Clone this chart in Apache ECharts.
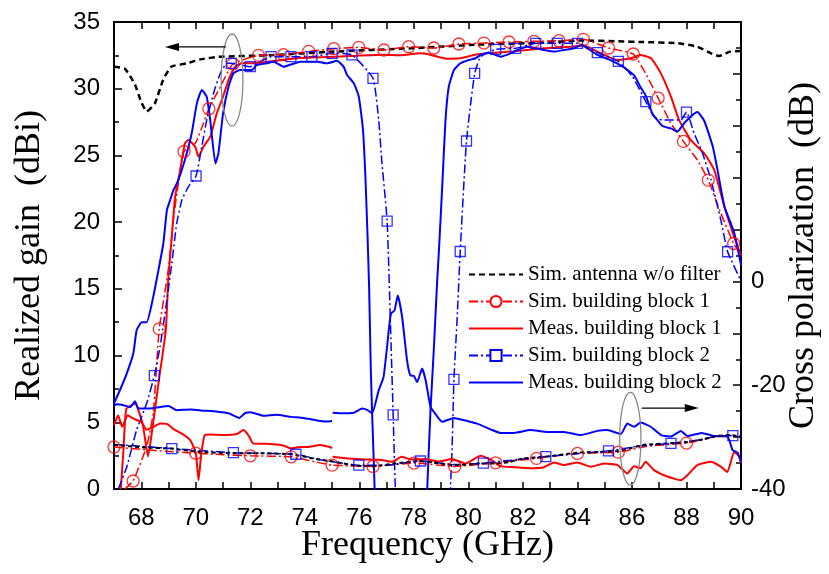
<!DOCTYPE html>
<html>
<head>
<meta charset="utf-8">
<script src="https://cdn.jsdelivr.net/npm/echarts@6/dist/echarts.min.js"></script>
<style>html,body{margin:0;padding:0;background:#fff}#c{width:829px;height:574px}</style>
</head>
<body>
<div id="c"></div>
<script>
// ---------- data (frequency in GHz) ----------
// Realized gain (dBi), left axis
const antF = [67, 67.4, 67.77, 68.0, 68.2, 68.5, 68.8, 69.1, 69.67, 70.16, 70.9, 72.6, 75.05, 77.9, 80.3, 82.76, 84.2, 85.5, 86.4, 87.7, 88.4, 88.9, 89.2, 89.6, 90];
const antG = [31.65, 31.5, 30.3, 29.0, 28.3, 28.9, 30.65, 31.65, 31.9, 32.2, 32.4, 32.5, 32.78, 33.03, 33.3, 33.45, 33.62, 33.55, 33.5, 33.4, 33.15, 32.65, 32.45, 32.78, 32.83];

const sim1F = [67.4, 67.7, 68.2, 68.44, 68.66, 68.99, 69.18, 69.36, 69.57, 69.98, 70.28, 70.48, 70.9, 71.36, 72.3, 73.22, 74.14, 75.06, 75.98, 76.9, 77.81, 78.73, 79.65, 80.57, 81.49, 82.4, 83.32, 84.22, 85.14, 86.05, 86.5, 86.96, 87.43, 87.89, 88.4, 88.8, 89.26, 89.73, 90];
const sim1G = [0, 0.6, 3.2, 5.7, 12.0, 16.4, 20.2, 22.9, 25.3, 25.9, 27.4, 28.5, 30.15, 31.85, 32.5, 32.55, 32.8, 33.0, 33.1, 32.9, 33.15, 33.05, 33.35, 33.42, 33.5, 33.55, 33.6, 33.7, 33.05, 32.6, 31.15, 29.3, 27.4, 26.05, 24.66, 23.15, 20.66, 18.4, 17.5];
const sim1MarkF = [67.7, 68.66, 69.57, 70.48, 71.36, 72.3, 73.22, 74.14, 75.06, 75.98, 76.9, 77.81, 78.73, 79.65, 80.57, 81.49, 82.4, 83.32, 84.22, 85.14, 86.05, 86.96, 87.89, 88.8, 89.73];
const sim1MarkG = [0.6, 12.0, 25.3, 28.5, 31.85, 32.5, 32.55, 32.8, 33.0, 33.1, 32.9, 33.15, 33.05, 33.35, 33.42, 33.5, 33.55, 33.6, 33.7, 33.05, 32.6, 29.3, 26.05, 23.15, 18.4];

const meas1F = [67.25, 67.35, 67.45, 67.77, 68.05, 68.25, 68.4, 68.65, 68.9, 68.99, 69.12, 69.24, 69.4, 69.6, 69.73, 69.98, 70.1, 70.28, 70.53, 70.77, 71.0, 71.2, 71.45, 71.7, 72.0, 72.6, 73.8, 75.06, 76.9, 77.5, 78.24, 78.6, 79.2, 79.7, 80.2, 80.7, 81.55, 82.77, 83.75, 84.24, 84.73, 85.47, 85.96, 86.3, 86.7, 87.06, 87.43, 87.73, 88.16, 88.65, 89.02, 89.39, 89.75, 90];
const meas1G = [0, 3.0, 6.0, 6.4, 4.9, 2.45, 4.4, 8.2, 11.9, 15.67, 18.9, 21.9, 23.6, 25.9, 26.15, 25.65, 24.9, 25.65, 26.4, 28.15, 29.4, 30.65, 31.65, 31.9, 31.9, 32.0, 32.3, 32.4, 32.55, 32.5, 32.65, 32.55, 32.25, 32.28, 32.53, 32.65, 32.78, 33.03, 33.15, 33.23, 32.78, 32.15, 32.28, 32.53, 32.28, 31.15, 29.4, 27.65, 26.15, 25.16, 23.9, 21.16, 18.9, 17.5];

const sim2F = [67.16, 67.47, 67.83, 68.2, 68.48, 68.69, 68.94, 69.12, 69.3, 69.49, 69.73, 70.01, 70.22, 70.4, 70.65, 70.9, 71.14, 71.3, 72.0, 72.76, 73.49, 74.26, 75.0, 75.73, 76.5, 76.71, 76.83, 77.02, 77.17, 77.24, 77.32, 77.4, 79.3, 79.34, 79.4, 79.47, 79.59, 79.7, 79.93, 80.23, 80.45, 81.0, 81.73, 82.47, 83.26, 84.0, 84.73, 85.5, 86.02, 86.51, 86.81, 87.12, 87.79, 88.0, 88.28, 88.59, 88.9, 89.26, 89.51, 90];
const sim2G = [0, 1.67, 4.42, 6.42, 8.49, 10.66, 14.16, 16.9, 19.9, 21.66, 22.66, 23.46, 25.65, 27.65, 29.65, 31.15, 31.9, 31.9, 31.65, 32.4, 32.4, 32.4, 32.65, 32.53, 30.78, 27.65, 24.4, 20.08, 10.4, 5.55, 0, -3, -3, 0, 2.9, 8.22, 12.9, 17.8, 26.08, 31.15, 32.4, 32.95, 33.03, 33.4, 33.4, 33.4, 32.7, 32.05, 30.9, 29.03, 27.9, 27.65, 27.65, 28.25, 26.66, 25.16, 23.16, 20.16, 17.78, 15.6];
const sim2MarkF = [68.48, 70.01, 71.3, 72.0, 72.76, 73.49, 74.26, 75.0, 75.73, 76.5, 77.02, 77.24, 79.47, 79.7, 79.93, 80.23, 81.0, 81.73, 82.47, 83.26, 84.0, 84.73, 85.5, 86.51, 88.0, 89.51];
const sim2MarkG = [8.49, 23.46, 31.9, 31.65, 32.4, 32.4, 32.4, 32.65, 32.53, 30.78, 20.08, 5.55, 8.22, 17.8, 26.08, 31.15, 32.95, 33.03, 33.4, 33.4, 33.4, 32.7, 32.05, 29.03, 28.25, 17.78];

const meas2F = [67.0, 67.22, 67.47, 67.71, 67.83, 68.02, 68.2, 68.44, 68.63, 68.81, 68.94, 69.06, 69.18, 69.33, 69.6, 69.85, 70.04, 70.22, 70.4, 70.53, 70.72, 70.83, 71.0, 71.2, 71.38, 71.63, 72.06, 72.24, 72.6, 72.85, 73.22, 73.83, 74.45, 74.81, 75.18, 75.42, 75.55, 75.8, 75.98, 76.13, 76.22, 76.3, 76.36, 76.42, 76.48, 76.53, 76.56, 76.6, 78.45, 78.49, 78.61, 78.73, 78.85, 78.92, 79.04, 79.16, 79.28, 79.47, 79.7, 80.02, 80.26, 80.45, 80.75, 81.18, 81.55, 81.8, 82.16, 82.77, 83.14, 83.5, 83.88, 84.12, 84.37, 84.73, 85.15, 85.71, 86.08, 86.32, 86.5, 86.75, 87.12, 87.43, 87.67, 87.91, 88.15, 88.4, 88.65, 88.96, 89.14, 89.39, 89.75, 90];
const meas2G = [6.42, 7.42, 8.67, 10.17, 11.9, 12.5, 12.5, 14.4, 16.4, 18.4, 20.9, 21.66, 22.4, 23.0, 24.66, 26.66, 28.9, 29.9, 29.4, 27.65, 24.4, 25.16, 28.15, 30.15, 31.15, 31.4, 31.4, 31.78, 31.9, 32.03, 31.65, 32.03, 32.03, 31.9, 32.1, 31.65, 31.03, 30.4, 29.4, 27.0, 23.5, 19.0, 15.0, 9.0, 5.0, 2.0, 0, -3, -3, 0, 5.9, 10.4, 15.4, 17.9, 22.66, 27.65, 30.15, 31.4, 31.9, 32.15, 32.28, 32.53, 32.7, 32.4, 32.65, 32.9, 33.15, 32.9, 32.78, 32.9, 33.03, 33.28, 33.03, 32.53, 32.2, 31.6, 31.0, 30.1, 29.5, 28.15, 27.2, 27.03, 26.8, 27.4, 27.9, 28.25, 27.6, 25.7, 23.9, 21.2, 19.2, 16.8];

// Cross polarization (dB), right axis
const antXF = [67, 68.1, 69.1, 70.0, 71.35, 72.3, 73.5, 74.3, 74.9, 75.9, 76.5, 77.3, 78.2, 78.7, 79.5, 80.4, 81.0, 81.5, 82.0, 82.8, 84.0, 85.1, 85.5, 85.9, 86.4, 87.4, 88.0, 88.6, 89.1, 89.6, 90];
const antXC = [-31.5, -32.0, -32.2, -32.8, -33.1, -33.1, -33.3, -34.1, -34.6, -35.5, -35.6, -35.1, -34.6, -34.9, -35.4, -35.1, -35.1, -34.8, -34.1, -33.8, -33.0, -32.8, -32.7, -32.2, -31.5, -31.2, -31.0, -30.45, -29.8, -29.6, -29.9];

const sim1XF = [67, 68.5, 70, 71, 72, 73.5, 74.4, 75, 76.5, 78, 79.5, 81, 82.5, 84, 85.5, 86.5, 88, 89, 89.5, 90];
const sim1XC = [-31.9, -32.6, -33.1, -33.4, -33.6, -33.8, -34.8, -35.4, -35.65, -35.0, -35.65, -34.95, -34.1, -33.15, -32.9, -31.8, -31.15, -30.0, -29.7, -29.9];
const sim1XMarkF = [67.0, 70.0, 72.0, 73.5, 75.0, 76.5, 78.0, 79.5, 81.0, 82.5, 84.0, 85.5, 88.0];
const sim1XMarkC = [-31.9, -33.1, -33.6, -33.8, -35.4, -35.65, -35.0, -35.65, -34.95, -34.1, -33.15, -32.9, -31.15];

const sim2XF = [67, 69.12, 71.38, 73.67, 74.5, 75.98, 77.0, 78.24, 79.5, 80.55, 82.84, 85.14, 86.3, 87.43, 88.5, 89.1, 89.7, 90];
const sim2XC = [-31.4, -32.2, -33.0, -33.3, -34.3, -35.4, -35.4, -34.6, -35.3, -35.0, -33.75, -32.65, -31.7, -31.2, -30.5, -29.8, -29.7, -29.9];
const sim2XMarkF = [69.12, 71.38, 73.67, 75.98, 78.24, 80.55, 82.84, 85.14, 87.43, 89.7];
const sim2XMarkC = [-32.2, -33.0, -33.3, -35.4, -34.6, -35.0, -33.75, -32.65, -31.2, -29.7];

// measured cross-pol: null marks the break at 75 GHz
const meas1XF = [67.0, 67.15, 67.3, 67.5, 67.7, 68.0, 68.2, 68.45, 68.7, 68.95, 69.2, 69.6, 69.8, 70.0, 70.1, 70.2, 70.33, 70.6, 71.0, 71.5, 71.75, 71.95, 72.1, 72.6, 73.2, 73.5, 73.8, 74.1, 74.57, 74.9, 75.0, 75.01,
  75.02, 75.6, 76.2, 76.8, 77.2, 77.55, 77.9, 78.4, 78.9, 79.4, 79.9, 80.45, 80.81, 81.18, 81.67, 82.28, 82.77, 83.14, 83.5, 84.0, 84.49, 84.98, 85.47, 85.83, 86.08, 86.32, 86.5, 86.81, 87.3, 87.79, 88.04, 88.4, 88.9, 89.26, 89.5, 89.75, 89.94, 90];
const meas1XC = [-27.7, -25.8, -28.0, -25.8, -26.4, -27.1, -28.6, -28.0, -27.4, -27.5, -28.5, -29.7, -30.6, -33.0, -38.3, -33.3, -29.6, -29.5, -29.6, -29.4, -28.65, -29.8, -31.2, -31.3, -31.6, -32.2, -31.9, -31.9, -31.5, -31.9, -32.1, null,
  -33.8, -34.1, -34.3, -34.4, -34.75, -33.8, -34.3, -34.2, -34.75, -34.2, -35.1, -33.6, -34.3, -35.6, -35.8, -36.0, -35.8, -34.9, -35.4, -34.9, -35.7, -35.1, -35.4, -37.0, -35.6, -36.0, -34.75, -36.35, -37.6, -38.3, -37.3, -35.4, -34.75, -35.7, -36.7, -32.8, -33.8, -35.0];

const meas2XF = [67.0, 67.12, 67.35, 67.6, 67.77, 67.9, 68.3, 68.68, 69.0, 69.3, 69.8, 70.3, 70.8, 71.2, 71.6, 71.8, 72.0, 72.5, 72.95, 73.5, 73.95, 74.45, 74.8, 75.0, 75.01,
  75.02, 75.4, 75.8, 76.1, 76.3, 76.47, 76.71, 76.89, 77.08, 77.16, 77.29, 77.41, 77.57, 77.75, 77.87, 78.0, 78.12, 78.3, 78.43, 78.61, 78.73, 79.04, 79.47, 79.96, 80.32, 80.81, 81.18, 81.67, 82.28, 82.9, 83.5, 84.12, 84.73, 85.1, 85.59, 85.83, 86.08, 86.32, 86.69, 87.06, 87.43, 87.79, 88.04, 88.55, 89.02, 89.51, 89.69, 89.87, 90];
const meas2XC = [-23.9, -23.65, -23.85, -24.2, -23.1, -24.5, -24.5, -24.2, -24.0, -24.8, -24.7, -24.9, -25.1, -25.4, -26.3, -25.4, -25.2, -25.9, -25.7, -26.1, -26.3, -26.8, -27.0, -26.9, null,
  -25.3, -25.4, -25.3, -24.5, -24.8, -25.4, -21.0, -18.4, -9.4, -6.2, -5.6, -2.7, -6.9, -15.2, -18.1, -18.2, -19.4, -16.8, -19.0, -24.2, -25.1, -27.05, -26.3, -26.9, -27.4, -28.5, -29.2, -29.2, -28.65, -29.0, -29.0, -29.6, -28.8, -28.65, -29.4, -27.4, -28.0, -27.2, -28.0, -29.6, -29.9, -28.8, -29.8, -29.2, -29.8, -29.9, -32.5, -33.0, -34.8];

// axis tick labels
const gainTicks = [0, 5, 10, 15, 20, 25, 30, 35];
const crossLabels = [-40, -20, 0];
const freqLabels = [68, 70, 72, 74, 76, 78, 80, 82, 84, 86, 88, 90];

// annotation anchors (data coordinates)
const ellipse1 = {f: 71.33, v: 30.65, df: 0.4, dv: 3.45};   // left axis
const ellipse2 = {f: 85.94, v: -30.3, df: 0.39, dv: 8.95};  // right axis
const arrow1 = {f0: 71.1, f1: 68.87, v: 33.13};             // left axis
const arrow2 = {f0: 86.36, f1: 88.45, v: -24.4};            // right axis

const names = ['Sim. antenna w/o filter', 'Sim. building block 1', 'Meas. building block 1', 'Sim. building block 2', 'Meas. building block 2'];
const hasMarker = [false, true, false, true, false];
const RED = '#ff0000', BLUE = '#0000ff', BLACK = '#000000';
const DASHDOT = [9, 3, 2, 3];

function zip(f, v) { return f.map((x, i) => [x, v[i] === null ? '-' : v[i]]); }

function lineS(name, f, v, color, type, width, yIdx, sym) {
  return {
    name, type: 'line', xAxisIndex: 0, yAxisIndex: yIdx, data: zip(f, v),
    showSymbol: false, symbol: sym || 'none', symbolSize: sym === 'emptyRect' ? 10 : 12,
    connectNulls: false, smooth: 0.15, animation: false, clip: true,
    lineStyle: {color, width, type},
    itemStyle: {color, borderColor: color, borderWidth: 1.3},
    emphasis: {disabled: true}
  };
}
function markS(name, f, v, color, sym, yIdx, size) {
  return {
    name, type: 'scatter', xAxisIndex: 0, yAxisIndex: yIdx, data: zip(f, v),
    symbol: sym, symbolSize: size, animation: false,
    itemStyle: {color: 'rgba(255,255,255,0)', borderColor: color, borderWidth: 1.3},
    emphasis: {disabled: true}, z: 3
  };
}

const axisFont = () => ({fontFamily: 'Liberation Sans, Arial, sans-serif', fontSize: 24, color: '#000'});
const nameFont = () => ({fontFamily: 'Liberation Serif, Times New Roman, serif', fontSize: 36, color: '#000'});
const axLine = () => ({show: true, onZero: false, lineStyle: {color: '#000', width: 2}});
const tick = (len) => ({inside: true, length: len, lineStyle: {width: 1.5, color: '#000'}});
const minor = () => ({show: true, splitNumber: 2, length: 5, lineStyle: {width: 1.5, color: '#000'}});

const chart = echarts.init(document.getElementById('c'), null, {renderer: 'canvas'});
chart.setOption({
  backgroundColor: '#fff',
  animation: false,
  grid: {left: 114, right: 88, top: 22, bottom: 85, containLabel: false, outerBoundsMode: 'none',
         show: true, borderColor: '#000', borderWidth: 2, backgroundColor: 'rgba(0,0,0,0)'},
  legend: {
    data: names.map((n, i) => hasMarker[i] ? {name: n} : {name: n, itemStyle: {opacity: 0}}),
    orient: 'vertical', left: 463, top: 259,
    itemWidth: 54, itemHeight: 14, itemGap: 6,
    textStyle: {fontFamily: 'Liberation Serif, Times New Roman, serif', fontSize: 21, color: '#000', lineHeight: 21},
    selectedMode: false
  },
  xAxis: [{
    type: 'value', position: 'bottom', min: 67, max: 90, interval: 1,
    axisLine: axLine(), splitLine: {show: false}, axisTick: tick(7),
    axisLabel: Object.assign({margin: 17, formatter: v => freqLabels.includes(v) ? String(v) : ''}, axisFont()),
    name: 'Frequency (GHz)', nameLocation: 'middle', nameGap: 39, nameMoveOverlap: false, nameTextStyle: nameFont()
  }, {
    type: 'value', position: 'top', min: 67, max: 90, interval: 1,
    axisLine: axLine(), splitLine: {show: false}, axisTick: tick(7),
    axisLabel: {show: false}
  }],
  yAxis: [{
    type: 'value', position: 'left', min: 0, max: 35, interval: 5,
    axisLine: axLine(), splitLine: {show: false}, axisTick: tick(8), minorTick: minor(),
    axisLabel: Object.assign({margin: 14, formatter: v => gainTicks.includes(v) ? String(v) : ''}, axisFont()),
    name: 'Realized gain  (dBi)', nameLocation: 'middle', nameRotate: 90, nameGap: 66, nameMoveOverlap: false, nameTextStyle: nameFont()
  }, {
    type: 'value', position: 'right', min: -40, max: 50, interval: 10,
    axisLine: axLine(), splitLine: {show: false}, axisTick: tick(8), minorTick: minor(),
    axisLabel: Object.assign({margin: 10, formatter: v => crossLabels.includes(v) ? String(v) : ''}, axisFont()),
    name: 'Cross polarization  (dB)', nameLocation: 'middle', nameRotate: 90, nameGap: 45, nameMoveOverlap: false, nameTextStyle: nameFont()
  }],
  series: [
    lineS(names[0], antF, antG, BLACK, [6, 4], 2.5, 0),
    lineS(names[1], sim1F, sim1G, RED, DASHDOT, 1.5, 0, 'emptyCircle'),
    lineS(names[2], meas1F, meas1G, RED, 'solid', 2, 0),
    lineS(names[3], sim2F, sim2G, BLUE, DASHDOT, 1.5, 0, 'emptyRect'),
    lineS(names[4], meas2F, meas2G, BLUE, 'solid', 2, 0),
    markS(names[1], sim1MarkF, sim1MarkG, RED, 'circle', 0, 12),
    markS(names[3], sim2MarkF, sim2MarkG, BLUE, 'rect', 0, 10),
    lineS(names[2], meas1XF, meas1XC, RED, 'solid', 2, 1),
    lineS(names[4], meas2XF, meas2XC, BLUE, 'solid', 2, 1),
    lineS(names[1], sim1XF, sim1XC, RED, DASHDOT, 1.5, 1, 'emptyCircle'),
    lineS(names[3], sim2XF, sim2XC, BLUE, DASHDOT, 1.5, 1, 'emptyRect'),
    lineS(names[0], antXF, antXC, BLACK, [4, 3], 2, 1),
    markS(names[1], sim1XMarkF, sim1XMarkC, RED, 'circle', 1, 12),
    markS(names[3], sim2XMarkF, sim2XMarkC, BLUE, 'rect', 1, 10)
  ]
});

// annotations positioned through the axes
function px(f, v, yIdx) { return chart.convertToPixel({xAxisIndex: 0, yAxisIndex: yIdx}, [f, v]); }
function ellipseG(e, yIdx) {
  const c = px(e.f, e.v, yIdx), a = px(e.f + e.df, e.v + e.dv, yIdx);
  return {type: 'ellipse', shape: {cx: c[0], cy: c[1], rx: Math.abs(a[0] - c[0]), ry: Math.abs(c[1] - a[1])},
    style: {fill: 'none', stroke: '#888', lineWidth: 1.3}, z: 100};
}
function arrowG(a, yIdx) {
  const p0 = px(a.f0, a.v, yIdx), p1 = px(a.f1, a.v, yIdx);
  const dir = p1[0] > p0[0] ? 1 : -1;
  return [
    {type: 'line', shape: {x1: p0[0], y1: p0[1], x2: p1[0] - dir * 10, y2: p1[1]}, style: {stroke: '#000', lineWidth: 1.3}, z: 100},
    {type: 'polygon', shape: {points: [[p1[0], p1[1]], [p1[0] - dir * 14, p1[1] - 4], [p1[0] - dir * 14, p1[1] + 4]]}, style: {fill: '#000'}, z: 100}
  ];
}
chart.setOption({graphic: [ellipseG(ellipse1, 0), ellipseG(ellipse2, 1)].concat(arrowG(arrow1, 0), arrowG(arrow2, 1))});
</script>
</body>
</html>
